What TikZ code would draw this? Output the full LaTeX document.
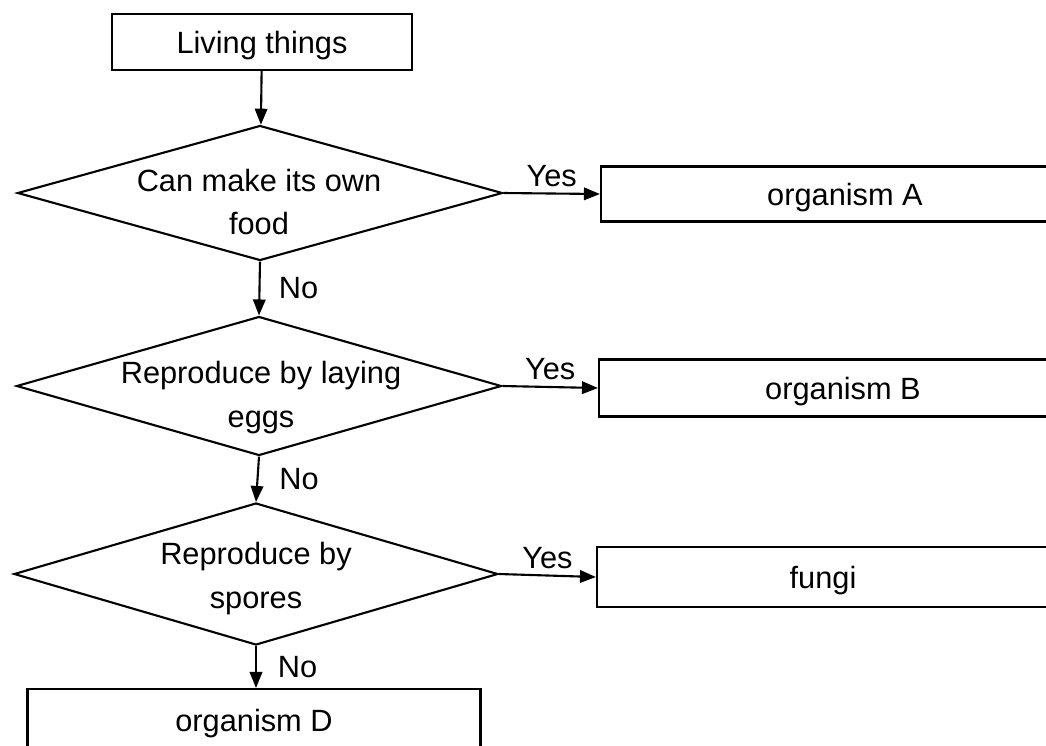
\documentclass[tikz,border=0pt]{standalone}
\usepackage{fontspec}
\setmainfont{Liberation Sans}
\usetikzlibrary{shapes.geometric,arrows.meta,positioning}

\tikzset{
  box/.style={draw, rectangle, inner sep=0pt, text depth=0pt},
  decision/.style={draw, diamond, inner sep=0pt, minimum width=9.7cm},
  qtext/.style={align=center},
}

\begin{document}
\begin{tikzpicture}[x=0.2mm, y=-0.2mm, line width=1.2pt, >={Triangle[length=3.2mm,width=2.5mm]},
  font=\fontsize{17.5}{25}\selectfont]
\useasboundingbox (0,0) rectangle (1046,745);
\clip (0,0) rectangle (1046,745);
% start
\node[box, minimum width=6cm, minimum height=1.12cm] (living) at (262,42) {Living things};
% questions
\node[decision, minimum height=2.7cm] (q1) at (260,193) {};
\node[qtext] (q1t) at (259,202) {Can make its own\\food};
\node[decision, minimum height=2.78cm] (q2) at (259,386) {};
\node[qtext] (q2t) at (261,398) {Reproduce by laying\\eggs};
\node[decision, minimum height=2.84cm, minimum width=9.68cm] (q3) at (256,574) {};
\node[qtext] (q3t) at (256,579) {Reproduce by\\spores};
% answers
\node[box, minimum width=9.76cm, minimum height=1.1cm] (orgA) at (845,194) {organism A};
\node[box, minimum width=9.76cm, minimum height=1.14cm] (orgB) at (843,388) {organism B};
\node[box, minimum width=9.04cm, minimum height=1.2cm] (fungi) at (823,577) {fungi};
\node[box, minimum width=9.06cm, minimum height=1.24cm] (orgD) at (254,720) {organism D};
% arrows
\draw[->] (living) -- (q1);
\draw[->] (q1.east) -- (orgA.west) node[midway, above] {Yes};
\draw[->] (q1.south) -- (q2.north) node[midway, right=0.25cm] {No};
\draw[->] (q2.east) -- (orgB.west) node[midway, above] {Yes};
\draw[->] (q2.south) -- (q3.north) node[midway, right=0.3cm] {No};
\draw[->] (q3.east) -- (fungi.west) node[midway, above] {Yes};
\draw[->] (q3.south) -- (q3.south |- orgD.north) node[midway, right=0.3cm] {No};
\end{tikzpicture}
\end{document}
